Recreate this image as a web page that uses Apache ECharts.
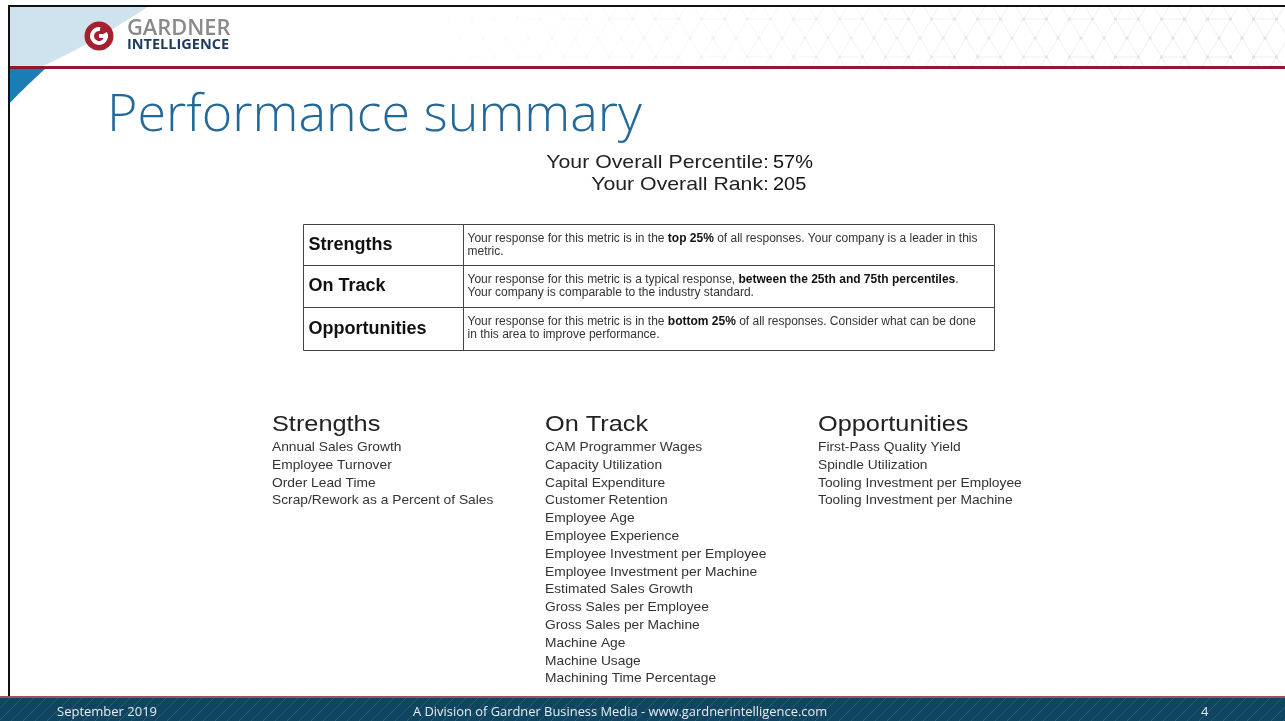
<!DOCTYPE html>
<html>
<head>
<meta charset="utf-8">
<script src="https://cdn.jsdelivr.net/npm/echarts@6/dist/echarts.min.js"></script>
<style>
  html, body { margin: 0; padding: 0; background: #fff; }
  #main { width: 1285px; height: 721px; }
</style>
</head>
<body>
<div id="main"></div>
<script>
// slide content
const slideTitle = 'Performance summary';
const statLabels = ['Your Overall Percentile:', 'Your Overall Rank:'];
const statValues = ['57%', '205'];

const legendNames = ['Strengths', 'On Track', 'Opportunities'];
const legendText = [
  'Your response for this metric is in the {b|top 25%} of all responses. Your company is a leader in this\nmetric.',
  'Your response for this metric is a typical response, {b|between the 25th and 75th percentiles}.\nYour company is comparable to the industry standard.',
  'Your response for this metric is in the {b|bottom 25%} of all responses. Consider what can be done\nin this area to improve performance.'
];

const strengths = [
  'Annual Sales Growth',
  'Employee Turnover',
  'Order Lead Time',
  'Scrap/Rework as a Percent of Sales'
];
const onTrack = [
  'CAM Programmer Wages',
  'Capacity Utilization',
  'Capital Expenditure',
  'Customer Retention',
  'Employee Age',
  'Employee Experience',
  'Employee Investment per Employee',
  'Employee Investment per Machine',
  'Estimated Sales Growth',
  'Gross Sales per Employee',
  'Gross Sales per Machine',
  'Machine Age',
  'Machine Usage',
  'Machining Time Percentage'
];
const opportunities = [
  'First-Pass Quality Yield',
  'Spindle Utilization',
  'Tooling Investment per Employee',
  'Tooling Investment per Machine'
];

const footerDate = 'September 2019';
const footerCenter = 'A Division of Gardner Business Media - www.gardnerintelligence.com';
const pageNumber = '4';

const arial = '"Liberation Sans", Arial, sans-serif';
const calibri = '"Open Sans", "Noto Sans", sans-serif';

// small repeating tiles for the header lattice and footer stripes
function latticeTile() {
  const c = document.createElement('canvas');
  c.width = 46; c.height = 38;
  const g = c.getContext('2d');
  g.strokeStyle = '#ececec';
  g.lineWidth = 1;
  const pts = [[0, 0], [23, 0], [46, 0], [11.5, 19], [34.5, 19], [0, 38], [23, 38], [46, 38]];
  g.beginPath();
  [[0, 3], [1, 3], [1, 4], [2, 4], [3, 5], [3, 6], [4, 6], [4, 7], [3, 4]].forEach(function (p) {
    g.moveTo(pts[p[0]][0], pts[p[0]][1]);
    g.lineTo(pts[p[1]][0], pts[p[1]][1]);
  });
  g.stroke();
  g.fillStyle = '#dedede';
  pts.forEach(function (p) { g.fillRect(p[0] - 1.5, p[1] - 1.5, 3, 3); });
  return c;
}
function stripeTile() {
  const c = document.createElement('canvas');
  c.width = 12; c.height = 12;
  const g = c.getContext('2d');
  g.strokeStyle = 'rgba(255,255,255,0.12)';
  g.lineWidth = 1;
  g.beginPath();
  g.moveTo(0, 12); g.lineTo(12, 0);
  g.moveTo(-1, 1); g.lineTo(1, -1);
  g.moveTo(11, 13); g.lineTo(13, 11);
  g.stroke();
  return c;
}
// corner shape: straight edges plus a quadratic curve sampled into points
function curvedCorner(p0, ctrl, p1, closing) {
  const pts = [];
  for (let i = 0; i <= 24; i++) {
    const t = i / 24, u = 1 - t;
    pts.push([u * u * p0[0] + 2 * u * t * ctrl[0] + t * t * p1[0], u * u * p0[1] + 2 * u * t * ctrl[1] + t * t * p1[1]]);
  }
  return pts.concat(closing);
}

const chart = echarts.init(document.getElementById('main'), null, { renderer: 'canvas' });

const els = [];

// header
els.push({ type: 'rect', shape: { x: 10, y: 7, width: 1275, height: 59 }, style: { fill: { image: latticeTile(), repeat: 'repeat' } } });
els.push({
  type: 'rect', shape: { x: 10, y: 7, width: 1275, height: 59 },
  style: {
    fill: new echarts.graphic.LinearGradient(0, 0, 1, 0, [
      { offset: 0, color: 'rgba(255,255,255,1)' },
      { offset: 0.3, color: 'rgba(255,255,255,1)' },
      { offset: 0.75, color: 'rgba(255,255,255,0.3)' },
      { offset: 1, color: 'rgba(255,255,255,0.1)' }
    ])
  }
});
els.push({ type: 'polygon', shape: { points: curvedCorner([149, 6], [95, 42], [43, 66], [[9, 66], [9, 6]]) }, style: { fill: '#cfe3ee' } });
els.push({ type: 'polygon', shape: { points: curvedCorner([45, 69], [26, 86], [9, 104], [[9, 69]]) }, style: { fill: '#1c7db5' } });
els.push({ type: 'rect', shape: { x: 9, y: 66, width: 1276, height: 3 }, style: { fill: '#8b1a32' } });
els.push({ type: 'rect', shape: { x: 8, y: 5, width: 1277, height: 2 }, style: { fill: '#111' } });
els.push({ type: 'rect', shape: { x: 8, y: 5, width: 2, height: 692 }, style: { fill: '#111' } });

// logo
els.push({ type: 'circle', shape: { cx: 99, cy: 36, r: 14.5 }, style: { fill: '#a51f2f' } });
els.push({ type: 'arc', shape: { cx: 99, cy: 36, r: 7, startAngle: -Math.PI * 0.15, endAngle: Math.PI * 1.55, clockwise: true }, style: { stroke: '#fff', lineWidth: 4, fill: null } });
els.push({ type: 'rect', shape: { x: 99, y: 34, width: 9, height: 4 }, style: { fill: '#fff' } });
els.push({ type: 'text', x: 127, y: 29.5, scaleX: 1.04, style: { text: 'GARDNER', fontFamily: calibri, fontSize: 21, fontWeight: 600, fill: '#8a8a8a', align: 'left', verticalAlign: 'middle' } });
els.push({ type: 'text', x: 127, y: 45, style: { text: 'INTELLIGENCE', fontFamily: calibri, fontSize: 14.5, fontWeight: 700, fill: '#1d3a5f', align: 'left', verticalAlign: 'middle' } });

// title
els.push({ type: 'text', x: 107, y: 116, style: { text: slideTitle, fontFamily: calibri, fontSize: 52, fontWeight: 300, fill: '#22699a', align: 'left', verticalAlign: 'middle' } });

// overall stats
statLabels.forEach(function (lab, i) {
  const y = 163 + i * 22;
  els.push({ type: 'text', x: 769, y: y, scaleX: 1.12, style: { text: lab, fontFamily: arial, fontSize: 19, fill: '#222', align: 'right', verticalAlign: 'middle' } });
  els.push({ type: 'text', x: 773, y: y, scaleX: 1.05, style: { text: statValues[i], fontFamily: arial, fontSize: 19, fill: '#111', align: 'left', verticalAlign: 'middle' } });
});

// definition table
const tTop = 224.5, tLeft = 303.5, tRight = 994.5, tSplit = 463.5;
const rowH = [41, 42, 43];
let ry = tTop;
legendNames.forEach(function (name, i) {
  const h = rowH[i];
  els.push({ type: 'text', x: tLeft + 5, y: ry + h / 2, style: { text: name, fontFamily: arial, fontSize: 18, fontWeight: 'bold', fill: '#111', align: 'left', verticalAlign: 'middle' } });
  els.push({
    type: 'text', x: tSplit + 4, y: ry + 8,
    style: {
      text: legendText[i], fontFamily: arial, fontSize: 12, lineHeight: 12.5, fill: '#333', align: 'left', verticalAlign: 'top',
      rich: { b: { fontFamily: arial, fontSize: 12, lineHeight: 12.5, fontWeight: 'bold', fill: '#111' } }
    }
  });
  ry += h;
  if (i < legendNames.length - 1) {
    els.push({ type: 'line', shape: { x1: tLeft, y1: ry, x2: tRight, y2: ry }, style: { stroke: '#444', lineWidth: 1 } });
  }
});
els.push({ type: 'rect', shape: { x: tLeft, y: tTop, width: tRight - tLeft, height: ry - tTop }, style: { fill: null, stroke: '#444', lineWidth: 1 } });
els.push({ type: 'line', shape: { x1: tSplit, y1: tTop, x2: tSplit, y2: ry }, style: { stroke: '#444', lineWidth: 1 } });

// three lists
const lists = [strengths, onTrack, opportunities];
const colX = [272, 545, 818];
lists.forEach(function (items, c) {
  els.push({ type: 'text', x: colX[c], y: 425, scaleX: 1.15, style: { text: legendNames[c], fontFamily: arial, fontSize: 22, fill: '#222', align: 'left', verticalAlign: 'middle' } });
  items.forEach(function (it, k) {
    els.push({ type: 'text', x: colX[c], y: 447.5 + k * 17.8, scaleX: 1.06, style: { text: it, fontFamily: arial, fontSize: 13, fill: '#333', align: 'left', verticalAlign: 'middle' } });
  });
});

// footer
els.push({ type: 'rect', shape: { x: 0, y: 697, width: 1285, height: 24 }, style: { fill: '#0f4560' } });
els.push({ type: 'rect', shape: { x: 0, y: 697, width: 1285, height: 24 }, style: { fill: { image: stripeTile(), repeat: 'repeat' } } });
els.push({ type: 'rect', shape: { x: 0, y: 696, width: 1285, height: 2 }, style: { fill: '#a0505e' } });
els.push({ type: 'text', x: 57, y: 712, style: { text: footerDate, fontFamily: calibri, fontSize: 13, fill: '#e8ecef', align: 'left', verticalAlign: 'middle' } });
els.push({ type: 'text', x: 413, y: 712, style: { text: footerCenter, fontFamily: calibri, fontSize: 12.9, fill: '#e8ecef', align: 'left', verticalAlign: 'middle' } });
els.push({ type: 'text', x: 1201, y: 712, style: { text: pageNumber, fontFamily: calibri, fontSize: 13, fill: '#e8ecef', align: 'left', verticalAlign: 'middle' } });

chart.setOption({
  animation: false,
  graphic: { elements: els }
});
</script>
</body>
</html>
